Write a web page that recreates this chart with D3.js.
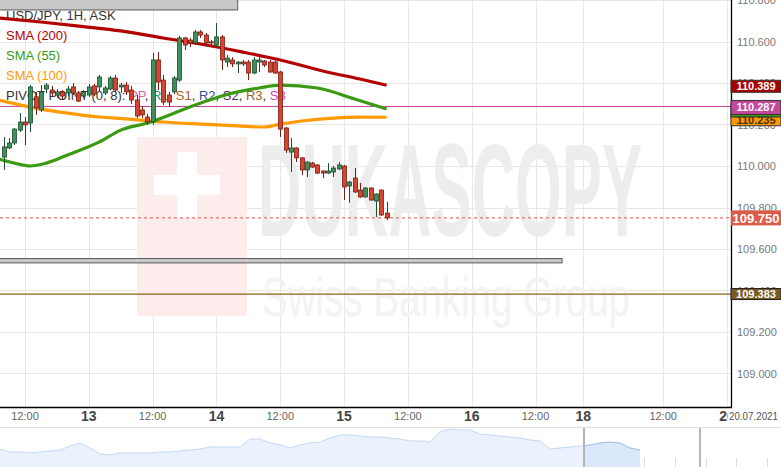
<!DOCTYPE html>
<html><head><meta charset="utf-8">
<script src="https://cdn.jsdelivr.net/npm/d3@7"></script>
<style>body{margin:0;background:#fff;overflow:hidden;} svg{display:block;font-family:"Liberation Sans",Arial,sans-serif;}</style>
</head><body><svg id="c" width="781" height="467"></svg>
<script>
// ---- DATA ----
// candle time in trading hours since 12 Jul 2021 00:00 (weekend removed)
const candleHours = d3.range(8, 81);
const openV = [110.043,110.087,110.111,110.173,110.212,110.207,110.333,110.270,110.371,110.366,110.342,110.357,110.352,110.381,110.352,110.337,110.342,110.386,110.381,110.352,110.371,110.424,110.381,110.390,110.366,110.318,110.270,110.236,110.212,110.511,110.414,110.342,110.357,110.414,110.617,110.607,110.593,110.646,110.631,110.598,110.583,110.622,110.501,110.511,110.492,110.501,110.501,110.448,110.501,110.506,110.501,110.501,110.453,110.183,110.067,110.087,110.039,109.981,110.014,110.005,109.976,109.966,109.971,109.986,110.000,109.904,109.942,109.884,109.851,109.894,109.831,109.884,109.773];
const highV = [110.140,110.135,110.183,110.255,110.236,110.390,110.357,110.390,110.400,110.386,110.371,110.366,110.386,110.400,110.361,110.366,110.395,110.395,110.439,110.386,110.434,110.439,110.400,110.405,110.386,110.342,110.289,110.251,110.545,110.549,110.439,110.357,110.434,110.627,110.622,110.617,110.655,110.655,110.641,110.607,110.689,110.631,110.535,110.525,110.505,110.511,110.511,110.525,110.525,110.511,110.511,110.506,110.458,110.188,110.135,110.090,110.043,110.022,110.019,110.008,109.979,110.014,110.000,110.019,110.005,109.928,109.990,109.918,109.897,109.897,109.868,109.887,109.827];
const lowV = [109.981,110.082,110.101,110.164,110.101,110.164,110.246,110.260,110.352,110.333,110.328,110.323,110.337,110.342,110.308,110.328,110.333,110.337,110.357,110.342,110.366,110.357,110.352,110.342,110.299,110.231,110.231,110.198,110.198,110.366,110.294,110.284,110.347,110.405,110.559,110.573,110.583,110.617,110.583,110.583,110.573,110.463,110.477,110.477,110.448,110.482,110.414,110.443,110.453,110.477,110.450,110.443,110.140,110.063,109.971,110.019,109.957,109.947,109.990,109.961,109.942,109.961,109.947,109.981,109.836,109.822,109.870,109.846,109.848,109.833,109.754,109.759,109.740];
const closeV = [110.092,110.111,110.178,110.212,110.198,110.381,110.280,110.357,110.390,110.352,110.357,110.337,110.371,110.352,110.313,110.357,110.381,110.347,110.429,110.376,110.424,110.366,110.390,110.357,110.318,110.241,110.246,110.212,110.511,110.405,110.308,110.308,110.424,110.617,110.583,110.593,110.646,110.631,110.593,110.593,110.622,110.511,110.520,110.492,110.501,110.492,110.448,110.511,110.511,110.487,110.453,110.448,110.178,110.077,110.087,110.039,109.981,110.019,109.995,109.966,109.966,109.976,109.990,110.005,109.899,109.923,109.875,109.851,109.894,109.836,109.865,109.764,109.750];

const sma200Hours = [7,15,23,30,38,45,53,60,68,75,80];
const sma200V = [110.713,110.694,110.672,110.651,110.617,110.588,110.549,110.511,110.458,110.419,110.389];
const sma55Hours = [7,10,13,16,20,26,30,35,43,49,56,60,67,74,80];
const sma55V = [110.034,110.014,110.000,110.014,110.053,110.116,110.173,110.207,110.284,110.337,110.376,110.390,110.376,110.323,110.275];
const sma100Hours = [7,13,20,26,31,38,45,52,57,60,64,70,75,80];
const sma100V = [110.318,110.284,110.255,110.236,110.227,110.212,110.202,110.193,110.188,110.202,110.217,110.231,110.236,110.235];

const yTicks = [110.8,110.6,110.4,110.2,110.0,109.8,109.6,109.4,109.2,109.0];
const xTickHours = [12,24,36,48,60,72,84,96,108,117,132,144];
const xTickLabels = ["12:00","13","12:00","14","12:00","15","12:00","16","12:00","18","12:00","20"];
const dateLabel = "20.07.2021";

const pivotPP = 110.287;
const pivotS1 = 109.383;
const lastPrice = 109.750;
// zones: [startHour, endHour, lowPrice, highPrice]
const zoneStart = [0, 0];
const zoneEnd = [52, 113];
const zoneLow = [110.752, 109.533];
const zoneHigh = [110.810, 109.554];

const legendTitle = "USD/JPY, 1H, ASK";
const legendSma = ["SMA (200)","SMA (55)","SMA (100)"];
const pivotParts = ["PP","R1","S1","R2","S2","R3","S3"];

// navigator (overview) series, arbitrary units
const navValues = [18,15,15,14,15,16,17,21,24,19,13,12,14,14,14,14,15,15,16,17,18,20,20,20,20,28,28,24,22,19,22,24,25,29,32,32,31,30,30,29,28,26,26,25,35,38,37,37,33,32,31,30,29,27,26,18,19,20,21,22,24,25,24,19,17];
const navWindow = [58.4, 70];

// ---- CHART ----
const W = 781, H = 467, plotW = 731, plotH = 407;
const svg = d3.select("#c");
const x = d3.scaleLinear().domain([7.299, 144.76]).range([0, plotW]);
const y = d3.scaleLinear().domain([110.8, 108.8]).range([0, 415]);

const defs = svg.append("defs");
defs.append("clipPath").attr("id","plot").append("rect").attr("x",0).attr("y",0).attr("width",plotW).attr("height",plotH);

// grid
const grid = svg.append("g");
grid.selectAll("line.h").data(yTicks).join("line")
  .attr("x1",0).attr("x2",plotW).attr("y1",d=>Math.round(y(d))+0.5).attr("y2",d=>Math.round(y(d))+0.5)
  .attr("stroke","#e6e6e6");
grid.selectAll("line.v").data(xTickHours).join("line")
  .attr("y1",0).attr("y2",plotH).attr("x1",d=>Math.round(x(d))+0.5).attr("x2",d=>Math.round(x(d))+0.5)
  .attr("stroke","#e6e6e6");

// watermark
const wm = svg.append("g");
wm.append("rect").attr("x",137).attr("y",137).attr("width",110).attr("height",179).attr("fill","#fcecec");
wm.append("rect").attr("x",177).attr("y",152).attr("width",20).attr("height",66).attr("fill","#fff");
wm.append("rect").attr("x",154).attr("y",175).attr("width",66).attr("height",20).attr("fill","#fff");
wm.append("text").attr("x",258).attr("y",236).attr("font-size",132).attr("font-weight","bold")
  .attr("textLength",384).attr("lengthAdjust","spacingAndGlyphs").attr("fill","#ededed").text("DUKASCOPY");
wm.append("text").attr("x",262).attr("y",316).attr("font-size",56)
  .attr("textLength",368).attr("lengthAdjust","spacingAndGlyphs").attr("fill","#f3f3f3").text("Swiss Banking Group");

// legend (drawn under the marks)
const lg = svg.append("g").attr("font-size",13);
lg.append("text").attr("x",6).attr("y",20).attr("fill","#333").text(legendTitle);
const smaCols = ["#b30000","#3a9a12","#ff9a00"];
legendSma.forEach((t,i)=>lg.append("text").attr("x",6).attr("y",40+i*20).attr("fill",smaCols[i]).text(t));
const pivCols = ["#e060b0","#20a070","#b06020","#3050a0","#503060","#a06020","#d040c0"];
const pt = lg.append("text").attr("x",6).attr("y",100).attr("fill","#333");
pt.append("tspan").text("PIVOT POINT (0, 8): ");
pivotParts.forEach((p,i)=>{
  pt.append("tspan").attr("fill",pivCols[i]).text(p);
  if(i<pivotParts.length-1) pt.append("tspan").attr("fill","#333").text(", ");
});

const plot = svg.append("g").attr("clip-path","url(#plot)");

// zones
plot.selectAll("rect.zone").data(zoneStart).join("rect")
  .attr("x",(d,i)=>x(zoneStart[i])).attr("width",(d,i)=>x(zoneEnd[i])-x(zoneStart[i]))
  .attr("y",(d,i)=>y(zoneHigh[i])).attr("height",(d,i)=>y(zoneLow[i])-y(zoneHigh[i]))
  .attr("fill","#c8c8c8").attr("stroke","#5a5a5a").attr("stroke-width",1);

// pivot lines
plot.append("line").attr("x1",0).attr("x2",plotW).attr("y1",y(pivotPP)).attr("y2",y(pivotPP)).attr("stroke","#c4409a").attr("stroke-width",1);
plot.append("line").attr("x1",0).attr("x2",plotW).attr("y1",y(pivotS1)).attr("y2",y(pivotS1)).attr("stroke","#8b6414").attr("stroke-width",1.2);
plot.append("line").attr("x1",0).attr("x2",plotW).attr("y1",y(lastPrice)).attr("y2",y(lastPrice)).attr("stroke","#d9534f").attr("stroke-dasharray","3,3");

// SMA lines
const lineGen = d3.line().curve(d3.curveMonotoneX);
function drawSma(hs, vs, col){
  plot.append("path").attr("d", lineGen(hs.map((h,i)=>[x(h), y(vs[i])])))
    .attr("fill","none").attr("stroke",col).attr("stroke-width",3.2).attr("stroke-linejoin","round");
}
drawSma(sma100Hours, sma100V, "#ff9a00");
drawSma(sma55Hours, sma55V, "#3a9a12");
drawSma(sma200Hours, sma200V, "#b30000");

// candles
const cg = plot.append("g");
candleHours.forEach((h,i)=>{
  const up = closeV[i] >= openV[i];
  const stroke = up ? "#1d4f2f" : "#7a1c12";
  const fill = up ? "#3f8f5c" : "#d6452f";
  const cx = Math.round(x(h)) + 0.5;
  cg.append("line").attr("x1",cx).attr("x2",cx).attr("y1",y(highV[i])).attr("y2",y(lowV[i])).attr("stroke",stroke).attr("stroke-width",1);
  const top = y(Math.max(openV[i],closeV[i])), bot = y(Math.min(openV[i],closeV[i]));
  cg.append("rect").attr("x",cx-2).attr("width",4).attr("y",top).attr("height",Math.max(1,bot-top))
    .attr("fill",fill).attr("stroke",stroke).attr("stroke-width",0.8);
});

// frame
svg.append("line").attr("x1",plotW+0.5).attr("x2",plotW+0.5).attr("y1",0).attr("y2",plotH+1).attr("stroke","#000").attr("stroke-width",1.3);
svg.append("line").attr("x1",0).attr("x2",plotW+1).attr("y1",plotH+0.5).attr("y2",plotH+0.5).attr("stroke","#000").attr("stroke-width",1.5);

// y axis labels
svg.append("g").selectAll("text").data(yTicks).join("text")
  .attr("x",737).attr("y",d=>y(d)+4).attr("font-size",11).attr("fill","#777").text(d=>d.toFixed(3));

// price labels
function priceLabel(v, bg, fg, cy, h, fs, border){
  const g = svg.append("g");
  g.append("rect").attr("x",731).attr("y",cy-h/2).attr("width",50).attr("height",h).attr("fill",bg)
    .attr("stroke",border||"none").attr("stroke-width",border?1:0);
  g.append("text").attr("x",756).attr("y",cy+fs*0.36).attr("text-anchor","middle").attr("font-size",fs)
    .attr("font-weight","bold").attr("fill",fg).text(v.toFixed(3));
}
priceLabel(sma100V[sma100V.length-1], "#ff9900", "#4a3000", y(sma100V[sma100V.length-1])+2.5, 12, 11, "#333");
priceLabel(sma55V[sma55V.length-1], "#3a9a12", "#fff", y(sma55V[sma55V.length-1])+1.5, 13, 11, "#333");
priceLabel(pivotPP, "#c4479c", "#fff", y(pivotPP)+1, 14, 11, "#333");
priceLabel(sma200V[sma200V.length-1], "#a80000", "#fff", y(sma200V[sma200V.length-1])+1, 12, 11, "#333");
priceLabel(lastPrice, "#dd5a48", "#fff", y(lastPrice), 15, 13, null);
priceLabel(pivotS1, "#7b5a22", "#fff", y(pivotS1), 11, 11, "#222");

// x axis labels
const xa = svg.append("g");
xTickHours.forEach((h,i)=>{
  const day = xTickLabels[i].indexOf(":") < 0;
  xa.append("text").attr("x",x(h)).attr("y",day?421:420).attr("text-anchor","middle")
    .attr("font-size",day?14:11).attr("font-weight",day?"bold":"normal").attr("fill",day?"#444":"#666")
    .text(xTickLabels[i]);
});
svg.append("rect").attr("x",728).attr("y",409).attr("width",53).attr("height",16).attr("fill","#fff");
svg.append("text").attr("x",729).attr("y",420).attr("font-size",10.5).attr("textLength",49).attr("lengthAdjust","spacingAndGlyphs")
  .attr("fill","#555").text(dateLabel);

// navigator
const nx = d3.scaleLinear().domain([0, navValues.length-1]).range([0, 640]);
const ny = d3.scaleLinear().domain([0, 40]).range([467, 427]);
svg.append("line").attr("x1",0).attr("x2",W).attr("y1",427.5).attr("y2",427.5).attr("stroke","#e2e2e2");
const nav = svg.append("g");
nav.selectAll("line.t").data(d3.range(0.17, 78, 3.06)).join("line")
  .attr("x1",d=>Math.round(nx(d))+0.5).attr("x2",d=>Math.round(nx(d))+0.5).attr("y1",458).attr("y2",467).attr("stroke","#dcdcdc");
defs.append("clipPath").attr("id","navA").append("rect").attr("x",0).attr("y",427).attr("width",nx(navWindow[0])).attr("height",40);
defs.append("clipPath").attr("id","navB").append("rect").attr("x",nx(navWindow[0])).attr("y",427).attr("width",W).attr("height",40);
const area = d3.area().x((d,i)=>nx(i)).y0(467).y1(d=>ny(d));
const nline = d3.line().x((d,i)=>nx(i)).y(d=>ny(d));
nav.append("path").attr("d",area(navValues)).attr("fill","#ebf2fd").attr("clip-path","url(#navA)");
nav.append("path").attr("d",nline(navValues)).attr("fill","none").attr("stroke","#c3d9f6").attr("clip-path","url(#navA)");
nav.append("path").attr("d",area(navValues)).attr("fill","#dbe7fa").attr("clip-path","url(#navB)");
nav.append("path").attr("d",nline(navValues)).attr("fill","none").attr("stroke","#95bbef").attr("clip-path","url(#navB)");
nav.selectAll("line.w").data(navWindow).join("line")
  .attr("x1",d=>nx(d)).attr("x2",d=>nx(d)).attr("y1",428).attr("y2",467).attr("stroke","#b5b5b5").attr("stroke-width",2);
</script></body></html>
